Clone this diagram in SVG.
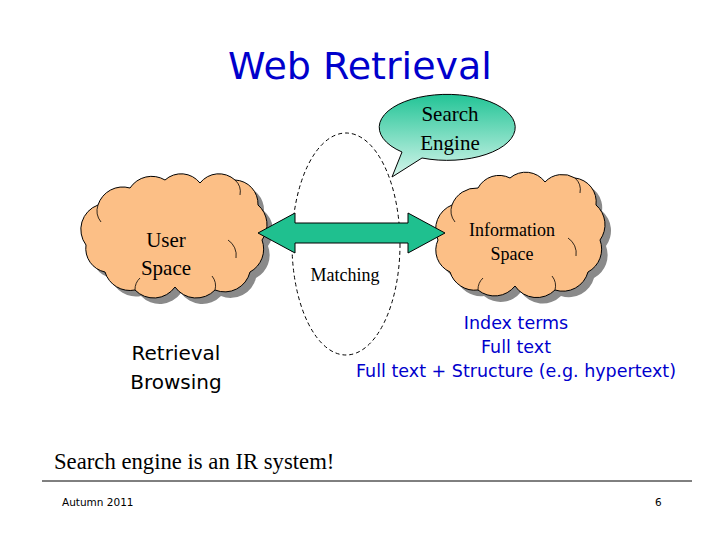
<svg xmlns="http://www.w3.org/2000/svg" width="720" height="540" viewBox="0 0 720 540">
<style>
.cloud{fill:#fcbf86;stroke:#000;stroke-width:1}
.shadow{fill:#8a8a8a}
.inner{fill:none;stroke:#000;stroke-width:0.8}
.serif{font-family:"Liberation Serif",serif;fill:#000}
.sans{font-family:"DejaVu Sans","Liberation Sans",sans-serif}
.blue{fill:#0000cc}
</style>
<defs>
<linearGradient id="bub" x1="0" y1="0" x2="0" y2="1">
<stop offset="0" stop-color="#22c496"/>
<stop offset="1" stop-color="#d6f6ec"/>
</linearGradient>
<path id="cloudL" d="M86,245 A26,26 0 0 1 98,205 A26,26 0 0 1 130,188 A26,26 0 0 1 165,180 A24,24 0 0 1 200,183 A24,24 0 0 1 235,180 A24,24 0 0 1 258,205 A26,26 0 0 1 262,240 A26,26 0 0 1 250,272 A26,26 0 0 1 215,290 A26,26 0 0 1 175,287 A26,26 0 0 1 135,290 A26,26 0 0 1 105,272 A24,24 0 0 1 86,245 Z"/>
<path id="cloudR" d="M438,240 A26,26 0 0 1 452,205 A26,26 0 0 1 478,188 A24,24 0 0 1 510,178 A24,24 0 0 1 545,182 A24,24 0 0 1 575,178 A24,24 0 0 1 596,205 A26,26 0 0 1 600,240 A26,26 0 0 1 588,272 A26,26 0 0 1 555,290 A26,26 0 0 1 515,286 A26,26 0 0 1 478,290 A26,26 0 0 1 450,272 A24,24 0 0 1 438,240 Z"/>
</defs>

<text x="360" y="79" text-anchor="middle" class="sans blue" font-size="38">Web Retrieval</text>

<g id="user-space">
<use href="#cloudL" class="shadow" transform="translate(6,6)"/>
<use href="#cloudL" class="cloud"/>
<path class="inner" d="M98,205 A18,18 0 0 0 101,222 M235,180 A16,16 0 0 1 240,195 M228,240 A18,18 0 0 1 236,258 M135,290 A16,16 0 0 1 140,278 M215,290 A16,16 0 0 0 212,276"/>
<text x="166" y="247" text-anchor="middle" class="serif" font-size="21">User</text>
<text x="166" y="275" text-anchor="middle" class="serif" font-size="21">Space</text>
</g>

<g id="info-space">
<use href="#cloudR" class="shadow" transform="translate(6,6)"/>
<use href="#cloudR" class="cloud"/>
<path class="inner" d="M452,205 A18,18 0 0 0 455,222 M575,178 A16,16 0 0 1 580,193 M568,238 A18,18 0 0 1 576,256 M478,290 A16,16 0 0 1 483,278 M555,290 A16,16 0 0 0 552,276"/>
<text x="512" y="236" text-anchor="middle" class="serif" font-size="18">Information</text>
<text x="512" y="260" text-anchor="middle" class="serif" font-size="18">Space</text>
</g>

<g id="search-engine">
<path d="M402,152 A68,33 0 1 1 422,158 L392,177 Z" fill="url(#bub)" stroke="#000" stroke-width="1"/>
<text x="450" y="121" text-anchor="middle" class="serif" font-size="21">Search</text>
<text x="450" y="150" text-anchor="middle" class="serif" font-size="21">Engine</text>
</g>

<g id="matching">
<ellipse cx="346" cy="244" rx="54" ry="111" fill="none" stroke="#000" stroke-width="1" stroke-dasharray="4,3"/>
<text x="345" y="281" text-anchor="middle" class="serif" font-size="18">Matching</text>
</g>

<g id="connectors">
<path d="M258,233 L295,213 L295,223 L408,223 L408,213 L445,233 L408,253 L408,243 L295,243 L295,253 Z" fill="#1fc08f" stroke="#000" stroke-width="1"/>
</g>

<g id="retrieval">
<text x="176" y="360" text-anchor="middle" class="sans" font-size="20">Retrieval</text>
<text x="176" y="389" text-anchor="middle" class="sans" font-size="20">Browsing</text>
</g>

<g id="index">
<text x="516" y="329" text-anchor="middle" class="sans blue" font-size="17.5">Index terms</text>
<text x="516" y="353" text-anchor="middle" class="sans blue" font-size="17.5">Full text</text>
<text x="516" y="377" text-anchor="middle" class="sans blue" font-size="17.5">Full text + Structure (e.g. hypertext)</text>
</g>

<text x="54" y="469" class="serif" font-size="22.7">Search engine is an IR system!</text>
<line x1="42" y1="481" x2="692" y2="481" stroke="#000" stroke-width="1"/>
<text x="62" y="506" class="sans" font-size="10.5">Autumn  2011</text>
<text x="655" y="506" class="sans" font-size="10.5">6</text>
</svg>
